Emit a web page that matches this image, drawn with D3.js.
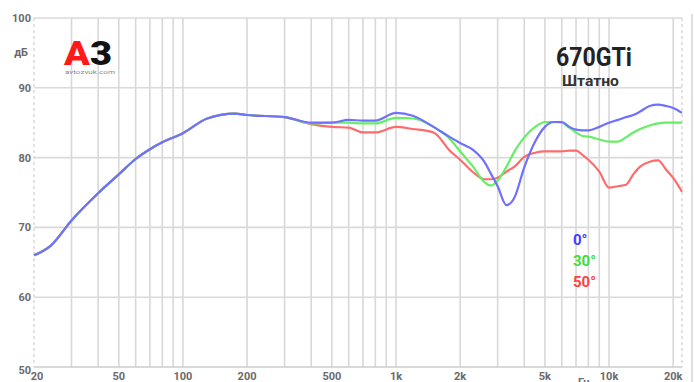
<!DOCTYPE html>
<html>
<head>
<meta charset="utf-8">
<script src="https://cdn.jsdelivr.net/npm/d3@7"></script>
<style>
    body { margin: 0; background: #fff; }
    svg { display: block; }
    text { font-family: Roboto, "DejaVu Sans", sans-serif; }
</style>
</head>
<body>
<div class="js-chart"></div>
<script>
'use strict';

//frequencies (Hz) the curves are read at
var freqs = [20, 24, 30, 40, 50, 60, 70, 80, 100, 130, 175, 200, 300, 400, 500, 600, 700, 800,
    1000, 1200, 1500, 1800, 2000, 2300, 2600, 2800, 3000, 3300, 3600, 4000, 4500, 5000, 5500,
    6000, 6500, 7000, 7500, 8000, 9000, 10000, 11000, 12000, 13000, 14000, 15500, 17000,
    18500, 20000, 22000];

//level, dB, per angle
var db0 = [66.0, 67.4, 71.0, 74.9, 77.6, 79.8, 81.2, 82.2, 83.5, 85.6, 86.3, 86.1, 85.8, 85.0,
    85.0, 85.4, 85.3, 85.3, 86.4, 86.0, 84.4, 82.9, 82.1, 81.1, 79.4, 77.6, 75.9, 73.2, 74.3,
    78.6, 82.3, 84.4, 85.1, 85.1, 84.4, 84.0, 83.9, 83.9, 84.4, 85.0, 85.4, 85.8, 86.1, 86.6,
    87.4, 87.6, 87.4, 87.1, 86.4];
var db30 = [66.0, 67.4, 71.0, 74.9, 77.6, 79.8, 81.2, 82.2, 83.5, 85.6, 86.3, 86.1, 85.8, 84.9,
    85.0, 85.0, 84.9, 84.9, 85.7, 85.6, 84.4, 82.6, 80.9, 78.7, 76.5, 76.0, 76.7, 78.7, 80.9,
    82.9, 84.4, 85.1, 85.1, 85.0, 84.3, 83.6, 83.1, 83.0, 82.6, 82.3, 82.3, 82.9, 83.6, 84.1,
    84.6, 84.9, 85.0, 85.0, 85.0];
var db50 = [66.0, 67.4, 71.0, 74.9, 77.6, 79.8, 81.2, 82.2, 83.5, 85.6, 86.3, 86.1, 85.8, 84.8,
    84.4, 84.3, 83.6, 83.6, 84.4, 84.1, 83.6, 80.9, 79.7, 77.9, 76.9, 76.9, 77.1, 78.0, 78.7,
    80.1, 80.7, 80.9, 80.9, 80.9, 81.0, 81.0, 80.4, 79.7, 78.0, 75.7, 75.9, 76.1, 77.6, 78.7,
    79.4, 79.6, 78.3, 77.1, 75.1];

//axis labels
var xTickValues = [20, 50, 100, 200, 500, 1000, 2000, 5000, 10000, 20000];
var xTickLabels = ['20', '50', '100', '200', '500', '1k', '2k', '5k', '10k', '20k'];
var yTickValues = [100, 90, 80, 70, 60, 50];

var series = [
    { name: '50°', values: db50, line: '#ff6b6b', text: '#ff4040' },
    { name: '30°', values: db30, line: '#66ee66', text: '#3ddd3d' },
    { name: '0°', values: db0, line: '#7070ff', text: '#4040ff' }
];

var dim = { w: 694, h: 382 };
var svg = d3.select('.js-chart').append('svg')
    .attr('width', dim.w)
    .attr('height', dim.h);

var x = d3.scaleLog().domain([20, 22000]).range([34, 682]);
var y = d3.scaleLinear().domain([50, 100]).range([367, 18]);

//vertical grid: every 1..9 step of each decade
var grid = [];
[10, 100, 1000, 10000].forEach(function (dec) {
    for (var k = 1; k < 10; k++) {
        var f = dec * k;
        if (f > 20 && f <= 20000) grid.push(f);
    }
});

svg.selectAll('.js-vgrid').data(grid).enter().append('line')
    .attr('class', 'js-vgrid')
    .attr('x1', function (d) { return x(d); })
    .attr('x2', function (d) { return x(d); })
    .attr('y1', y(100))
    .attr('y2', y(50))
    .style('stroke', '#d8d8d8')
    .style('stroke-width', 1.6);

svg.selectAll('.js-hgrid').data(yTickValues).enter().append('line')
    .attr('class', 'js-hgrid')
    .attr('x1', x(20))
    .attr('x2', x(22000))
    .attr('y1', function (d) { return y(d); })
    .attr('y2', function (d) { return y(d); })
    .style('stroke', function (d) { return d === 50 ? '#cccccc' : '#dadada'; })
    .style('stroke-width', 1.6);

//dashed side borders
[20, 22000].forEach(function (f) {
    svg.append('line')
        .attr('x1', x(f)).attr('x2', x(f))
        .attr('y1', y(100)).attr('y2', y(50))
        .style('stroke', '#cfcfcf')
        .style('stroke-width', 1.2)
        .style('stroke-dasharray', '3,3');
});

//frame edge on the far right
svg.append('line')
    .attr('x1', 692).attr('x2', 692)
    .attr('y1', 14).attr('y2', dim.h)
    .style('stroke', '#d4d4d4')
    .style('stroke-width', 1.5);

//y labels
svg.selectAll('.js-ylab').data(yTickValues).enter().append('text')
    .attr('class', 'js-ylab')
    .attr('x', 31)
    .attr('y', function (d) { return y(d) + (d === 50 ? 7 : 4); })
    .attr('text-anchor', 'end')
    .style('font-size', '11px')
    .style('font-weight', 'bold')
    .style('fill', '#6a6a6a')
    .text(function (d) { return d; });

svg.append('text')
    .attr('x', 28).attr('y', 56)
    .attr('text-anchor', 'end')
    .style('font-size', '11px')
    .style('font-weight', 'bold')
    .style('fill', '#6a6a6a')
    .text('дБ');

//x labels
svg.selectAll('.js-xlab').data(xTickValues).enter().append('text')
    .attr('class', 'js-xlab')
    .attr('x', function (d) { return x(d) + (d === 20 ? 3 : 0); })
    .attr('y', 380)
    .attr('text-anchor', 'middle')
    .style('font-size', '11px')
    .style('font-weight', 'bold')
    .style('fill', '#6a6a6a')
    .text(function (d, i) { return xTickLabels[i]; });

svg.append('text')
    .attr('x', 584).attr('y', 386)
    .attr('text-anchor', 'middle')
    .style('font-size', '11px')
    .style('font-weight', 'bold')
    .style('fill', '#6a6a6a')
    .text('Гц');

//response curves, red under green under blue
var line = d3.line()
    .x(function (d) { return x(d[0]); })
    .y(function (d) { return y(d[1]); })
    .curve(d3.curveMonotoneX);

series.forEach(function (s) {
    svg.append('path')
        .datum(d3.zip(freqs, s.values))
        .attr('d', line)
        .style('fill', 'none')
        .style('stroke', s.line)
        .style('stroke-width', 2.2)
        .style('stroke-linejoin', 'round');
});

//legend
series.slice().reverse().forEach(function (s, i) {
    svg.append('text')
        .attr('x', 573)
        .attr('y', 245 + i * 21)
        .style('font-size', '15px')
        .style('font-weight', 'bold')
        .style('fill', s.text)
        .text(s.name);
});

//title
svg.append('text')
    .attr('x', 556).attr('y', 66)
    .attr('textLength', 76)
    .attr('lengthAdjust', 'spacingAndGlyphs')
    .style('font-size', '25px')
    .style('font-weight', 'bold')
    .style('fill', '#222')
    .text('670GTi');

svg.append('text')
    .attr('x', 562).attr('y', 86)
    .attr('textLength', 57)
    .attr('lengthAdjust', 'spacingAndGlyphs')
    .style('font-size', '15px')
    .style('font-weight', 'bold')
    .style('fill', '#333')
    .text('Штатно');

//A3 logo
var logo = svg.append('text')
    .attr('x', 64).attr('y', 65)
    .attr('textLength', 48)
    .attr('lengthAdjust', 'spacingAndGlyphs')
    .style('font-size', '34px')
    .style('font-weight', '900');
logo.append('tspan').style('fill', '#ff1a1a').text('A');
logo.append('tspan').style('fill', '#111').text('3');

svg.append('text')
    .attr('x', 65).attr('y', 74)
    .attr('textLength', 50)
    .attr('lengthAdjust', 'spacingAndGlyphs')
    .style('font-size', '6px')
    .style('fill', '#888')
    .text('avtozvuk.com');
</script>
</body>
</html>
